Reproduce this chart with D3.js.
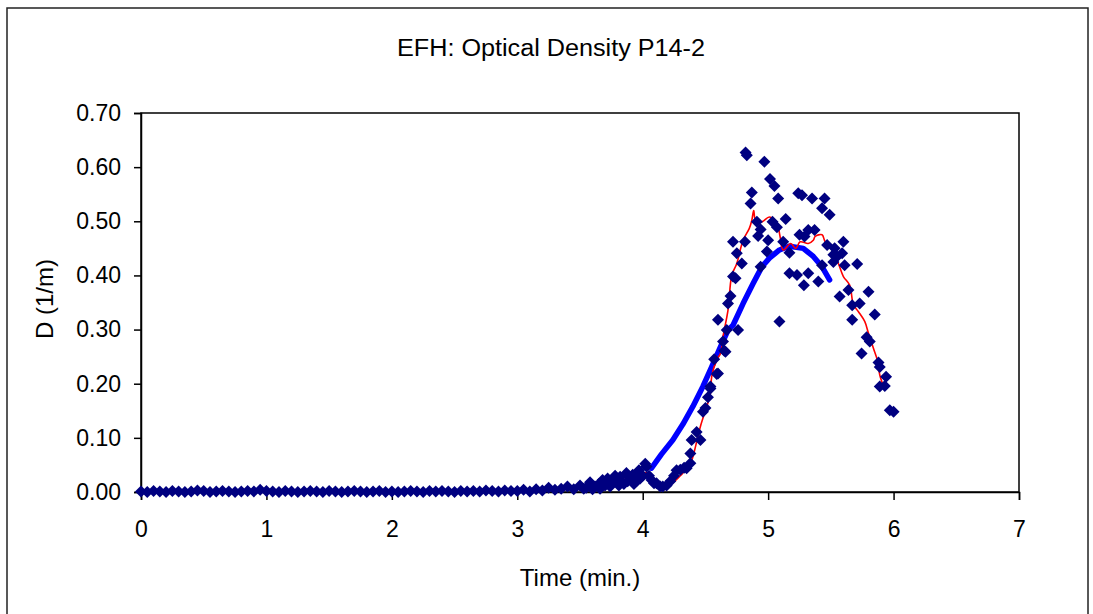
<!DOCTYPE html>
<html>
<head>
<meta charset="utf-8">
<script src="https://cdn.jsdelivr.net/npm/d3@7"></script>
<style>
  html, body { margin: 0; padding: 0; background: #fff; }
  svg { display: block; font-family: "Liberation Sans", Arial, sans-serif; }
</style>
</head>
<body>
<svg id="chart" width="1093" height="614"></svg>
<script>
// ---------- DATA ----------
const chartTitle = "EFH: Optical Density P14-2";
const xAxisTitle = "Time (min.)";
const yAxisTitle = "D (1/m)";
const xTicks = [0, 1, 2, 3, 4, 5, 6, 7];
const yTicks = [0, 0.1, 0.2, 0.3, 0.4, 0.5, 0.6, 0.7];

// measured optical density (diamonds): [time (min), D (1/m)]
const measured = [
  [0.00,0.001],[0.05,0.000],[0.10,0.002],[0.15,0.001],[0.20,0.000],[0.25,0.002],[0.30,0.001],[0.35,0.000],
  [0.40,0.001],[0.45,0.003],[0.50,0.002],[0.55,0.000],[0.60,0.001],[0.65,0.002],[0.70,0.001],[0.75,0.000],
  [0.80,0.001],[0.85,0.002],[0.90,0.001],[0.95,0.004],[1.00,0.002],[1.05,0.001],[1.10,0.000],[1.15,0.002],
  [1.20,0.001],[1.25,0.000],[1.30,0.001],[1.35,0.002],[1.40,0.001],[1.45,0.000],[1.50,0.002],[1.55,0.001],
  [1.60,0.000],[1.65,0.001],[1.70,0.002],[1.75,0.001],[1.80,0.000],[1.85,0.001],[1.90,0.002],[1.95,0.000],
  [2.00,0.001],[2.05,0.000],[2.10,0.001],[2.15,0.002],[2.20,0.001],[2.25,0.000],[2.30,0.002],[2.35,0.001],
  [2.40,0.002],[2.45,0.001],[2.50,0.000],[2.55,0.002],[2.60,0.001],[2.65,0.002],[2.70,0.001],[2.75,0.003],
  [2.80,0.002],[2.85,0.001],[2.90,0.003],[2.95,0.002],
  [3.00,0.002],[3.05,0.004],[3.10,0.001],[3.15,0.005],[3.20,0.003],[3.25,0.008],[3.30,0.004],[3.35,0.006],
  [3.40,0.010],[3.45,0.005],[3.50,0.012],[3.53,0.006],[3.55,0.008],[3.58,0.018],[3.60,0.005],[3.62,0.010],
  [3.65,0.015],[3.66,0.006],[3.68,0.022],[3.70,0.012],[3.72,0.025],[3.74,0.010],[3.75,0.018],[3.78,0.030],
  [3.80,0.020],[3.81,0.012],[3.82,0.028],[3.85,0.015],[3.87,0.035],[3.88,0.020],[3.90,0.025],[3.92,0.032],
  [3.93,0.015],[3.95,0.020],[3.97,0.040],[3.98,0.025],[4.00,0.030],[4.02,0.052],[4.03,0.047],
  [4.05,0.030],[4.07,0.022],[4.09,0.016],[4.11,0.016],[4.14,0.010],[4.16,0.010],[4.19,0.012],[4.22,0.020],
  [4.25,0.030],[4.27,0.040],[4.30,0.041],[4.33,0.045],[4.35,0.044],[4.38,0.053],[4.38,0.071],[4.39,0.096],
  [4.43,0.111],[4.46,0.096],[4.48,0.148],[4.50,0.155],[4.52,0.175],[4.54,0.191],[4.54,0.195],[4.57,0.245],
  [4.59,0.218],[4.60,0.219],[4.60,0.318],[4.64,0.278],[4.65,0.261],[4.66,0.259],[4.67,0.299],[4.68,0.348],
  [4.70,0.362],[4.72,0.462],[4.72,0.398],[4.74,0.395],[4.75,0.441],[4.76,0.299],[4.79,0.422],[4.815,0.462],
  [4.82,0.627],[4.83,0.622],[4.86,0.533],[4.87,0.553],[4.91,0.499],[4.92,0.473],[4.94,0.416],[4.94,0.485],
  [4.97,0.610],[4.99,0.444],[5.00,0.465],[5.015,0.578],[5.035,0.499],[5.05,0.565],[5.07,0.489],[5.08,0.542],
  [5.09,0.315],[5.12,0.462],[5.14,0.504],[5.17,0.442],[5.17,0.404],[5.23,0.401],[5.24,0.552],[5.25,0.475],
  [5.27,0.548],[5.285,0.382],[5.29,0.472],[5.32,0.484],[5.32,0.404],[5.35,0.542],[5.37,0.484],[5.40,0.389],
  [5.43,0.419],[5.43,0.524],[5.45,0.542],[5.47,0.456],[5.49,0.512],[5.52,0.425],[5.52,0.438],[5.53,0.450],
  [5.55,0.435],[5.57,0.361],[5.59,0.441],[5.60,0.462],[5.61,0.419],[5.64,0.373],[5.67,0.345],[5.67,0.318],
  [5.71,0.421],[5.73,0.348],[5.745,0.256],[5.785,0.286],[5.80,0.370],[5.81,0.278],[5.85,0.328],[5.88,0.239],
  [5.89,0.231],[5.89,0.195],[5.93,0.196],[5.94,0.213],[5.97,0.151],[6.00,0.148]
];

// smoothed series (thin red line)
const smoothed = [
  [0.00,0.001],[1.00,0.001],[2.00,0.001],[3.00,0.003],[3.50,0.010],[3.80,0.020],[4.00,0.035],[4.05,0.035],
  [4.10,0.020],[4.20,0.012],[4.30,0.030],[4.34,0.041],[4.38,0.053],[4.40,0.065],[4.46,0.121],[4.54,0.182],
  [4.55,0.213],[4.59,0.244],[4.62,0.256],[4.64,0.287],[4.68,0.336],[4.71,0.400],[4.75,0.422],[4.80,0.465],
  [4.85,0.487],[4.87,0.502],[4.885,0.520],[4.90,0.502],[4.95,0.499],[5.01,0.508],[5.07,0.496],[5.095,0.472],
  [5.12,0.447],[5.18,0.459],[5.22,0.450],[5.255,0.462],[5.32,0.459],[5.36,0.465],[5.375,0.472],[5.43,0.475],
  [5.455,0.462],[5.495,0.456],[5.56,0.422],[5.60,0.398],[5.65,0.382],[5.68,0.346],[5.72,0.333],[5.77,0.315],
  [5.80,0.293],[5.84,0.265],[5.87,0.244],[5.89,0.216],[5.92,0.195]
];

// model series (thick blue line)
const model = [
  [4.07,0.044],[4.15,0.070],[4.24,0.096],[4.32,0.125],[4.40,0.158],[4.48,0.195],[4.55,0.231],[4.62,0.268],
  [4.68,0.299],[4.72,0.308],[4.80,0.348],[4.88,0.385],[4.95,0.416],[5.01,0.432],[5.09,0.447],[5.17,0.454],
  [5.28,0.450],[5.36,0.435],[5.43,0.416],[5.49,0.392]
];

// ---------- DRAW ----------
const svg = d3.select("#chart");
const plot = { left: 141, right: 1019, top: 113, bottom: 492 };
const FONT = "'Liberation Sans', Arial, sans-serif";

// outer frame
svg.append("rect")
  .attr("x", 7).attr("y", 8).attr("width", 1081).attr("height", 640)
  .attr("fill", "#fff").attr("stroke", "#222").attr("stroke-width", 1.5);

const x = d3.scaleLinear().domain([0, 7]).range([plot.left, plot.right]);
const y = d3.scaleLinear().domain([0, 0.7]).range([plot.bottom, plot.top]);

// plot area border
svg.append("rect")
  .attr("x", plot.left).attr("y", plot.top)
  .attr("width", plot.right - plot.left).attr("height", plot.bottom - plot.top)
  .attr("fill", "none").attr("stroke", "#000").attr("stroke-width", 1.5);

// axes
const xAxis = svg.append("g")
  .attr("transform", `translate(0,${plot.bottom})`)
  .call(d3.axisBottom(x).tickValues(xTicks).tickSize(8).tickPadding(21).tickFormat(d3.format("d")));
const yAxis = svg.append("g")
  .attr("transform", `translate(${plot.left},0)`)
  .call(d3.axisLeft(y).tickValues(yTicks).tickSize(7).tickPadding(13).tickFormat(d3.format(".2f")));
[xAxis, yAxis].forEach(g => {
  g.select(".domain").attr("stroke", "#000").attr("stroke-width", 1.5);
  g.selectAll(".tick line").attr("stroke", "#000").attr("stroke-width", 1.5);
  g.selectAll(".tick text").attr("fill", "#000")
    .style("font-family", FONT).style("font-size", "23px");
});

// lines
const line = d3.line().x(d => x(d[0])).y(d => y(d[1]));
svg.append("path").datum(model)
  .attr("d", line).attr("fill", "none")
  .attr("stroke", "#0000ff").attr("stroke-width", 5.5)
  .attr("stroke-linejoin", "round").attr("stroke-linecap", "round");
svg.append("path").datum(smoothed)
  .attr("d", d3.line().x(d => x(d[0])).y(d => y(d[1])).curve(d3.curveCatmullRom))
  .attr("fill", "none").attr("stroke", "#ff0000").attr("stroke-width", 1.6);

// diamonds
const r = 6;
svg.append("g").selectAll("path").data(measured).join("path")
  .attr("transform", d => `translate(${x(d[0])},${y(d[1])})`)
  .attr("d", `M0,${-r}L${r},0L0,${r}L${-r},0Z`)
  .attr("fill", "#000080");

// titles
svg.append("text")
  .attr("x", 551).attr("y", 56).attr("text-anchor", "middle")
  .style("font-family", FONT).style("font-size", "23px").attr("fill", "#000")
  .attr("textLength", 308).attr("lengthAdjust", "spacingAndGlyphs")
  .text(chartTitle);
svg.append("text")
  .attr("x", 580).attr("y", 586).attr("text-anchor", "middle")
  .style("font-family", FONT).style("font-size", "24px").attr("fill", "#000")
  .text(xAxisTitle);
svg.append("text")
  .attr("transform", "translate(53,299) rotate(-90)")
  .attr("text-anchor", "middle")
  .style("font-family", FONT).style("font-size", "24px").attr("fill", "#000")
  .text(yAxisTitle);
</script>
</body>
</html>
